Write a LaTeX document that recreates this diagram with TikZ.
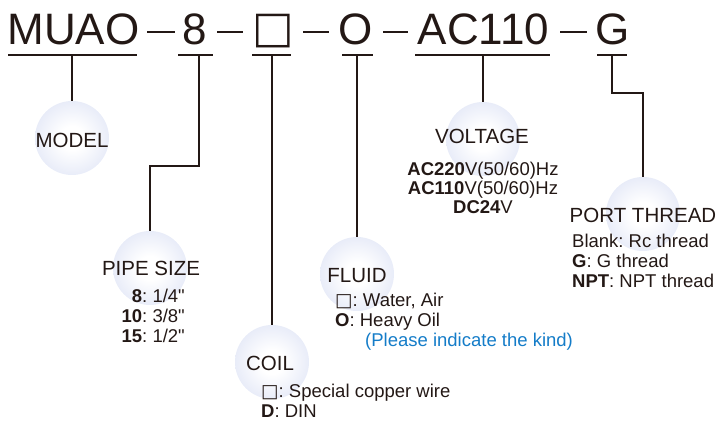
\documentclass[tikz,border=0pt]{standalone}
\usepackage{fontspec}
\setmainfont{Liberation Sans}
\newfontfamily\symfont{DejaVu Sans}
\usepackage{xcolor}
\usepackage{tikz}
\definecolor{ink}{RGB}{35,24,21}
\definecolor{note}{RGB}{20,124,200}
\definecolor{bubbleedge}{RGB}{218,224,244}
\pgfdeclareradialshading{bubble}{\pgfpoint{0bp}{0bp}}{color(0bp)=(white); color(8bp)=(white); color(36bp)=(bubbleedge); color(50bp)=(bubbleedge)}
\newcommand{\sq}{{\symfont □}}
\newcommand{\inch}{\textquotedbl}
\tikzset{
  code/.style={anchor=base, inner sep=0pt, text=ink, font=\fontsize{44}{44}\selectfont},
  bubble/.style={circle, minimum size=74pt, inner sep=0pt, shade, shading=bubble},
  head/.style={anchor=base, inner sep=0pt, text=ink, font=\fontsize{20.5}{20.5}\selectfont},
  detail/.style={inner sep=0pt, text=ink, font=\fontsize{18.5}{20}\selectfont},
  link/.style={draw=ink, line width=1.2pt},
}
\frenchspacing

\begin{document}
\begin{tikzpicture}[x=1pt, y=-1pt]
    \useasboundingbox (0,0) rectangle (719,422);
    \node[code] (muao) at (73.5,45) {MUAO};
    \node[code] (size) at (195,45) {8};
    \node[code, anchor=center] (wire) at (273,31) {\sq};
    \node[code] (oil) at (356,45) {O};
    \node[code] (ac) at (483.5,45) {AC110};
    \node[code] (g) at (612.5,45) {G};
    \foreach \a/\b in {147/175, 217/243, 303/329, 383/408, 560/587}
        \draw[ink, line width=1.8pt] (\a,32) -- (\b,32);
    \foreach \a/\b/\t/\k in {8/137/72/model, 178/213/199/pipe, 252/291/272/coil, 342/373/357/fluid, 415/550/483/volt, 597/627/612/port} {
        \draw[link] (\a,55) -- (\b,55);
        \coordinate (\k-tick) at (\t,55);
    }

    \node[bubble] (model) at (72,138) {};
    \node[bubble] (pipe) at (150,268) {};
    \node[bubble] (coil) at (272,362) {};
    \node[bubble] (fluid) at (357,274) {};
    \node[bubble] (volt) at (483,139) {};
    \node[bubble] (port) at (643,214) {};

    \draw[link] (model-tick) -- (model.north);
    \draw[link] (pipe-tick) -- ++(0,111) -| (pipe.north);
    \draw[link] (coil-tick) -- (coil.north);
    \draw[link] (fluid-tick) -- (fluid.north);
    \draw[link] (volt-tick) -- (volt.north);
    \draw[link] (port-tick) -- ++(0,38) -| (port.north);

    \node[head] (model-name) at (72,148) {MODEL};
    \node[head] (pipe-name) at (151,275) {PIPE SIZE};
    \node[head] (coil-name) at (270,370) {COIL};
    \node[head] (fluid-name) at (357,282) {FLUID};
    \node[head] (volt-name) at (482,143) {VOLTAGE};
    \node[head] (port-name) at (643,222) {PORT THREAD};

    \node[detail, anchor=north east, align=right] (pipe-list) at (185,288.7)
        {\textbf{8}: 1/4\inch\\\textbf{10}: 3/8\inch\\\textbf{15}: 1/2\inch};
    \node[detail, anchor=north, align=center, font=\fontsize{18.5}{19}\selectfont] (volt-list) at (483,161.5)
        {\textbf{AC220}V(50/60)Hz\\\textbf{AC110}V(50/60)Hz\\\textbf{DC24}V};
    \node[detail, anchor=north west, align=left] (port-list) at (572,233.7)
        {Blank: Rc thread\\\textbf{G}: G thread\\\textbf{NPT}: NPT thread};
    \node[detail, anchor=north west, align=left] (fluid-list) at (335,292.7)
        {\sq: Water, Air\\\textbf{O}: Heavy Oil};
    \node[detail, anchor=north west, text=note] (fluid-note) at (365,332.7)
        {(Please indicate the kind)};
    \node[detail, anchor=north west, align=left] (coil-list) at (261,383.7)
        {\sq: Special copper wire\\\textbf{D}: DIN};
\end{tikzpicture}
\end{document}
